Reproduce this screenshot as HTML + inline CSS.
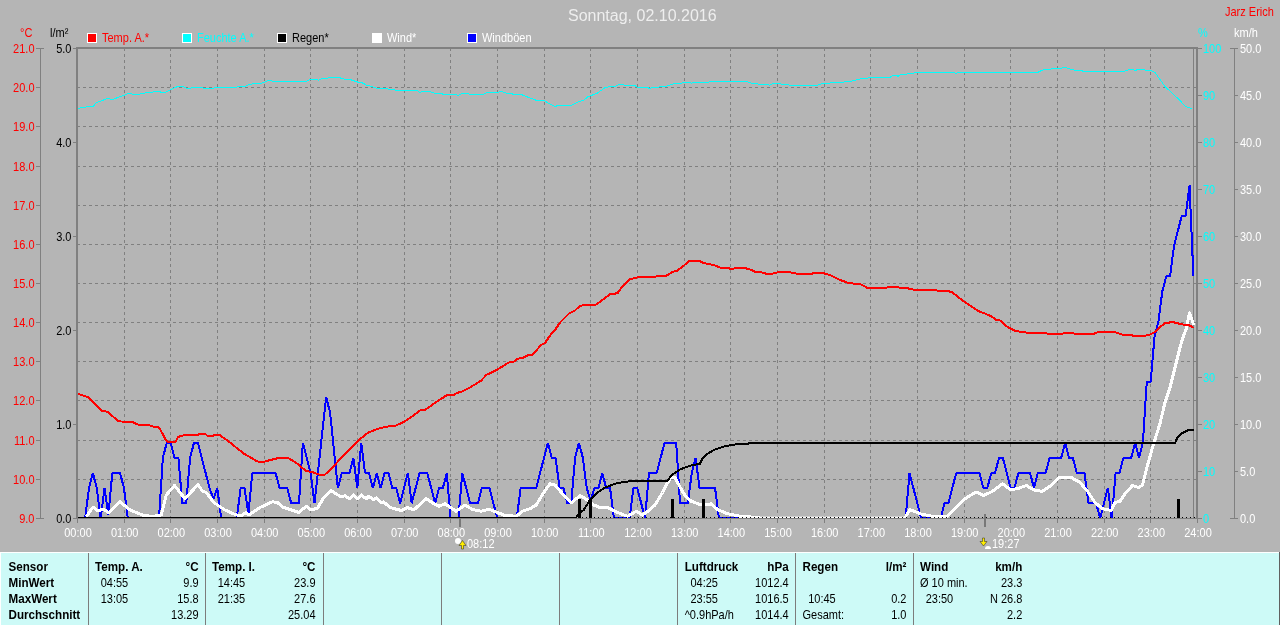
<!DOCTYPE html>
<html lang="de"><head><meta charset="utf-8"><title>Sonntag, 02.10.2016</title>
<style>html,body{margin:0;padding:0;background:#b5b5b5;overflow:hidden}svg{display:block}</style>
</head><body>
<svg width="1280" height="625" viewBox="0 0 1280 625" font-family='"Liberation Sans", sans-serif' font-size="11">
<rect x="0" y="0" width="1280" height="625" fill="#b5b5b5"/>
<g stroke="#808080" stroke-width="1" stroke-dasharray="3 3" shape-rendering="crispEdges" fill="none">
<line x1="77.0" y1="87.5" x2="1196" y2="87.5"/>
<line x1="77.0" y1="126.5" x2="1196" y2="126.5"/>
<line x1="77.0" y1="166.5" x2="1196" y2="166.5"/>
<line x1="77.0" y1="205.5" x2="1196" y2="205.5"/>
<line x1="77.0" y1="244.5" x2="1196" y2="244.5"/>
<line x1="77.0" y1="283.5" x2="1196" y2="283.5"/>
<line x1="77.0" y1="322.5" x2="1196" y2="322.5"/>
<line x1="77.0" y1="361.5" x2="1196" y2="361.5"/>
<line x1="77.0" y1="400.5" x2="1196" y2="400.5"/>
<line x1="77.0" y1="440.5" x2="1196" y2="440.5"/>
<line x1="77.0" y1="479.5" x2="1196" y2="479.5"/>
<line x1="124.5" y1="48.0" x2="124.5" y2="517"/>
<line x1="170.5" y1="48.0" x2="170.5" y2="517"/>
<line x1="217.5" y1="48.0" x2="217.5" y2="517"/>
<line x1="264.5" y1="48.0" x2="264.5" y2="517"/>
<line x1="310.5" y1="48.0" x2="310.5" y2="517"/>
<line x1="357.5" y1="48.0" x2="357.5" y2="517"/>
<line x1="404.5" y1="48.0" x2="404.5" y2="517"/>
<line x1="450.5" y1="48.0" x2="450.5" y2="517"/>
<line x1="497.5" y1="48.0" x2="497.5" y2="517"/>
<line x1="544.5" y1="48.0" x2="544.5" y2="517"/>
<line x1="590.5" y1="48.0" x2="590.5" y2="517"/>
<line x1="637.5" y1="48.0" x2="637.5" y2="517"/>
<line x1="684.5" y1="48.0" x2="684.5" y2="517"/>
<line x1="730.5" y1="48.0" x2="730.5" y2="517"/>
<line x1="777.5" y1="48.0" x2="777.5" y2="517"/>
<line x1="824.5" y1="48.0" x2="824.5" y2="517"/>
<line x1="870.5" y1="48.0" x2="870.5" y2="517"/>
<line x1="917.5" y1="48.0" x2="917.5" y2="517"/>
<line x1="964.5" y1="48.0" x2="964.5" y2="517"/>
<line x1="1010.5" y1="48.0" x2="1010.5" y2="517"/>
<line x1="1057.5" y1="48.0" x2="1057.5" y2="517"/>
<line x1="1104.5" y1="48.0" x2="1104.5" y2="517"/>
<line x1="1150.5" y1="48.0" x2="1150.5" y2="517"/>
</g>
<g fill="#808080" shape-rendering="crispEdges">
<rect x="76" y="47" width="2" height="471"/>
<rect x="76" y="47" width="1122" height="2"/>
<rect x="1196" y="47" width="2" height="471"/>
<rect x="1193" y="49" width="1" height="469"/>
<rect x="76" y="518" width="1122" height="1"/>
<rect x="40" y="48" width="1" height="471"/>
<rect x="36" y="48" width="8" height="1"/>
<rect x="36" y="87" width="4" height="1"/>
<rect x="36" y="126" width="4" height="1"/>
<rect x="36" y="166" width="4" height="1"/>
<rect x="36" y="205" width="4" height="1"/>
<rect x="36" y="244" width="4" height="1"/>
<rect x="36" y="283" width="4" height="1"/>
<rect x="36" y="322" width="4" height="1"/>
<rect x="36" y="361" width="4" height="1"/>
<rect x="36" y="400" width="4" height="1"/>
<rect x="36" y="440" width="4" height="1"/>
<rect x="36" y="479" width="4" height="1"/>
<rect x="36" y="518" width="8" height="1"/>
<rect x="73" y="48" width="3" height="1"/>
<rect x="73" y="142" width="3" height="1"/>
<rect x="73" y="236" width="3" height="1"/>
<rect x="73" y="330" width="3" height="1"/>
<rect x="73" y="424" width="3" height="1"/>
<rect x="73" y="518" width="3" height="1"/>
<rect x="1198" y="48" width="4" height="1"/>
<rect x="1198" y="95" width="4" height="1"/>
<rect x="1198" y="142" width="4" height="1"/>
<rect x="1198" y="189" width="4" height="1"/>
<rect x="1198" y="236" width="4" height="1"/>
<rect x="1198" y="283" width="4" height="1"/>
<rect x="1198" y="330" width="4" height="1"/>
<rect x="1198" y="377" width="4" height="1"/>
<rect x="1198" y="424" width="4" height="1"/>
<rect x="1198" y="471" width="4" height="1"/>
<rect x="1198" y="518" width="4" height="1"/>
<rect x="1234" y="48" width="1" height="471"/>
<rect x="1230" y="48" width="8" height="1"/>
<rect x="1234" y="95" width="4" height="1"/>
<rect x="1234" y="142" width="4" height="1"/>
<rect x="1234" y="189" width="4" height="1"/>
<rect x="1234" y="236" width="4" height="1"/>
<rect x="1234" y="283" width="4" height="1"/>
<rect x="1234" y="330" width="4" height="1"/>
<rect x="1234" y="377" width="4" height="1"/>
<rect x="1234" y="424" width="4" height="1"/>
<rect x="1234" y="471" width="4" height="1"/>
<rect x="1230" y="518" width="8" height="1"/>
<rect x="77" y="519" width="1" height="4"/>
<rect x="124" y="519" width="1" height="4"/>
<rect x="170" y="519" width="1" height="4"/>
<rect x="217" y="519" width="1" height="4"/>
<rect x="264" y="519" width="1" height="4"/>
<rect x="310" y="519" width="1" height="4"/>
<rect x="357" y="519" width="1" height="4"/>
<rect x="404" y="519" width="1" height="4"/>
<rect x="450" y="519" width="1" height="4"/>
<rect x="497" y="519" width="1" height="4"/>
<rect x="544" y="519" width="1" height="4"/>
<rect x="590" y="519" width="1" height="4"/>
<rect x="637" y="519" width="1" height="4"/>
<rect x="684" y="519" width="1" height="4"/>
<rect x="730" y="519" width="1" height="4"/>
<rect x="777" y="519" width="1" height="4"/>
<rect x="824" y="519" width="1" height="4"/>
<rect x="870" y="519" width="1" height="4"/>
<rect x="917" y="519" width="1" height="4"/>
<rect x="964" y="519" width="1" height="4"/>
<rect x="1010" y="519" width="1" height="4"/>
<rect x="1057" y="519" width="1" height="4"/>
<rect x="1104" y="519" width="1" height="4"/>
<rect x="1150" y="519" width="1" height="4"/>
<rect x="1197" y="519" width="1" height="4"/>
</g>
<g fill="#787878" shape-rendering="crispEdges"><rect x="459" y="518" width="2" height="9"/><rect x="984" y="514" width="2" height="13"/></g>
<clipPath id="pc"><rect x="78" y="49" width="1118" height="469"/></clipPath>
<g clip-path="url(#pc)">
<polyline points="77.50,109.25 81.00,107.75 93.75,106.00 96.00,102.75 107.50,98.50 112.50,99.50 128.75,93.50 136.00,94.75 147.50,92.50 158.75,91.50 163.75,93.00 177.50,86.50 182.50,86.50 187.50,88.50 195.00,87.50 202.50,88.00 210.00,89.00 217.50,87.25 222.50,88.00 235.00,87.25 245.00,86.25 250.00,84.25 262.50,83.00 268.75,80.25 272.50,81.25 306.25,81.25 311.25,79.25 316.00,79.25 318.75,80.25 322.50,78.50 327.50,78.25 330.00,77.50 338.75,77.50 343.75,79.00 350.00,79.50 357.50,82.00 362.50,83.00 366.25,85.00 376.25,88.00 385.00,88.50 395.00,90.00 416.25,90.00 420.00,92.50 422.50,91.25 430.00,91.75 435.00,93.25 441.25,93.50 443.75,94.50 456.25,94.50 458.00,95.50 462.50,93.25 467.50,93.25 470.00,94.50 482.50,94.50 487.50,92.50 497.50,92.50 501.25,91.25 506.25,93.25 511.25,93.50 513.75,94.50 521.25,94.50 530.00,98.00 536.25,100.25 543.75,100.50 551.25,104.75 555.00,106.50 558.75,105.25 571.25,105.25 577.50,102.25 583.75,100.25 587.50,97.00 597.50,93.00 605.00,87.75 610.00,86.50 615.00,86.50 618.75,84.50 622.50,84.50 626.25,85.50 635.00,85.50 637.50,87.50 647.50,87.50 649.50,88.50 652.50,87.50 657.50,87.50 660.00,86.50 665.00,86.50 675.00,83.50 681.25,83.50 683.75,82.25 688.75,82.25 691.25,83.25 693.75,82.25 708.75,82.25 711.25,81.25 746.25,81.25 751.25,83.25 756.25,83.25 758.75,84.25 766.25,84.25 769.50,85.25 773.75,83.25 778.75,83.25 781.25,84.25 787.50,84.50 790.00,85.50 816.25,85.50 823.75,83.25 828.75,83.25 832.50,82.25 843.75,82.25 846.25,81.25 851.25,81.25 857.50,79.50 862.50,78.50 867.50,78.25 870.00,77.25 890.00,77.25 893.75,75.25 896.25,75.25 898.00,76.25 901.25,74.25 906.25,74.25 908.75,73.25 913.75,73.25 916.25,72.25 953.75,72.25 956.25,73.50 958.75,72.25 1037.50,72.50 1043.75,69.50 1050.00,69.25 1052.50,68.25 1061.25,68.25 1065.00,67.25 1070.00,69.00 1076.25,70.50 1081.25,70.50 1083.75,71.50 1123.75,71.50 1130.00,69.50 1132.50,69.50 1135.00,70.50 1138.00,69.50 1143.75,69.50 1146.25,70.50 1151.25,70.50 1155.00,72.50 1165.00,86.50 1172.50,93.50 1180.00,100.50 1185.00,106.00 1192.50,109.25" fill="none" stroke="#00ffff" stroke-width="1" stroke-linecap="butt" shape-rendering="crispEdges" stroke-linejoin="round"/>
<polyline points="77.30,518.40 81.19,518.40 85.08,518.40 88.97,488.14 92.86,473.01 96.74,488.14 100.63,518.40 104.52,488.14 108.41,515.37 112.30,473.01 116.19,473.01 120.08,473.01 123.97,488.14 127.86,518.40 131.74,518.40 135.63,518.40 139.52,518.40 143.41,518.40 147.30,518.40 151.19,518.40 155.08,518.40 158.97,518.40 162.86,457.88 166.74,442.75 170.63,442.75 174.52,457.88 178.41,457.88 182.30,503.27 186.19,503.27 190.08,457.88 193.97,442.75 197.86,442.75 201.74,457.88 205.63,473.01 209.52,488.14 213.41,498.73 217.30,488.14 221.19,518.40 225.08,518.40 228.97,518.40 232.86,518.40 236.74,518.40 240.63,488.14 244.52,488.14 248.41,513.86 252.30,473.01 256.19,473.01 260.08,473.01 263.97,473.01 267.86,473.01 271.74,473.01 275.63,473.01 279.52,488.14 283.41,488.14 287.30,488.14 291.19,503.27 295.08,503.27 298.97,503.27 302.86,442.75 306.74,457.88 310.63,473.01 314.52,503.27 318.41,468.47 322.30,432.16 326.19,397.36 330.08,412.49 333.97,450.31 337.86,488.14 341.74,473.01 345.63,473.01 349.52,473.01 353.41,457.88 357.30,488.14 361.19,442.75 365.08,473.01 368.97,473.01 372.86,488.14 376.74,473.01 380.63,488.14 384.52,473.01 388.41,473.01 392.30,488.14 396.19,488.14 400.08,503.27 403.97,488.14 407.86,473.01 411.74,503.27 415.63,488.14 419.52,473.01 423.41,473.01 427.30,473.01 431.19,488.14 435.08,503.27 438.97,488.14 442.86,488.14 446.74,473.01 450.63,518.40 454.52,518.40 458.41,518.40 462.30,473.01 466.19,488.14 470.08,503.27 473.97,503.27 477.86,503.27 481.74,488.14 485.63,488.14 489.52,488.14 493.41,503.27 497.30,518.40 501.19,518.40 505.08,518.40 508.97,518.40 512.86,518.40 516.74,518.40 520.63,488.14 524.52,488.14 528.41,488.14 532.30,488.14 536.19,488.14 540.08,473.01 543.97,457.88 547.86,442.75 551.74,457.88 555.63,457.88 559.52,488.14 563.41,488.14 567.30,503.27 571.19,503.27 575.08,457.88 578.97,442.75 582.86,457.88 586.74,488.14 590.63,500.24 594.52,488.14 598.41,488.14 602.30,473.01 606.19,488.14 610.08,488.14 613.97,518.40 617.86,518.40 621.74,518.40 625.63,518.40 629.52,518.40 633.41,488.14 637.30,488.14 641.19,503.27 645.08,518.40 648.97,473.01 652.86,473.01 656.74,473.01 660.63,457.88 664.52,442.75 668.41,442.75 672.30,442.75 676.19,442.75 680.08,503.27 683.97,503.27 687.86,503.27 691.74,473.01 695.63,457.88 699.52,488.14 703.41,488.14 707.30,488.14 711.19,488.14 715.08,488.14 718.97,518.40 722.86,518.40 726.74,518.40 730.63,518.40 734.52,518.40 738.41,518.40 742.30,518.40 746.19,518.40 750.08,518.40 753.97,518.40 757.86,518.40 761.74,518.40 765.63,518.40 769.52,518.40 773.41,518.40 777.30,518.40 781.19,518.40 785.08,518.40 788.97,518.40 792.86,518.40 796.74,518.40 800.63,518.40 804.52,518.40 808.41,518.40 812.30,518.40 816.19,518.40 820.08,518.40 823.97,518.40 827.86,518.40 831.74,518.40 835.63,518.40 839.52,518.40 843.41,518.40 847.30,518.40 851.19,518.40 855.08,518.40 858.97,518.40 862.86,518.40 866.74,518.40 870.63,518.40 874.52,518.40 878.41,518.40 882.30,518.40 886.19,518.40 890.08,518.40 893.97,518.40 897.86,518.40 901.74,518.40 905.63,518.40 909.52,473.01 913.41,488.14 917.30,503.27 921.19,518.40 925.08,518.40 928.97,518.40 932.86,518.40 936.74,518.40 940.63,518.40 944.52,503.27 948.41,503.27 952.30,488.14 956.19,473.01 960.08,473.01 963.97,473.01 967.86,473.01 971.74,473.01 975.63,473.01 979.52,473.01 983.41,488.14 987.30,488.14 991.19,473.01 995.08,473.01 998.97,457.88 1002.86,457.88 1006.74,473.01 1010.63,488.14 1014.52,488.14 1018.41,473.01 1022.30,473.01 1026.19,473.01 1030.08,473.01 1033.97,488.14 1037.86,473.01 1041.74,473.01 1045.63,473.01 1049.52,457.88 1053.41,457.88 1057.30,457.88 1061.19,457.88 1065.08,442.75 1068.97,457.88 1072.86,457.88 1076.74,473.01 1080.63,473.01 1084.52,473.01 1088.41,503.27 1092.30,503.27 1096.19,503.27 1100.08,518.40 1103.97,503.27 1107.86,488.14 1111.74,518.40 1115.63,473.01 1119.52,473.01 1123.41,457.88 1127.30,457.88 1131.19,457.88 1135.08,442.75 1138.97,457.88 1142.86,442.75 1146.74,382.23 1150.63,382.23 1154.52,336.84 1158.41,321.71 1162.30,291.45 1166.19,276.32 1170.08,276.32 1173.97,246.06 1177.86,230.93 1181.74,215.80 1185.63,215.80 1189.52,185.54 1193.41,276.32" fill="none" stroke="#0000ff" stroke-width="2" stroke-linecap="butt" shape-rendering="crispEdges" stroke-linejoin="bevel"/>
<polyline points="86.25,517.00 93.00,507.00 97.50,510.50 103.75,509.50 108.75,512.50 120.00,501.75 130.00,510.00 142.50,515.00 152.50,516.50 161.25,515.00 166.25,495.00 174.50,485.50 185.00,498.75 198.00,484.50 202.50,491.25 206.25,492.50 213.75,502.50 225.00,510.00 235.00,514.50 241.25,516.25 245.75,512.50 248.75,515.00 260.00,507.50 272.50,501.75 277.50,502.50 282.50,507.00 298.75,512.50 306.25,506.25 311.25,510.00 317.50,508.00 323.75,497.50 331.25,490.75 341.25,497.00 345.00,495.75 349.50,498.75 353.75,495.00 357.50,498.75 361.25,495.00 366.25,498.75 368.75,496.25 373.75,500.00 376.25,498.00 381.25,503.00 383.75,502.00 390.00,507.50 401.25,510.50 407.50,507.50 413.75,510.00 426.25,498.75 433.75,503.75 438.75,506.25 445.00,503.75 456.25,511.25 465.00,505.00 472.50,509.50 481.25,511.25 488.75,509.25 497.50,512.50 505.00,515.50 516.25,516.25 522.50,511.25 530.00,508.75 536.25,505.00 543.75,492.50 550.00,483.75 555.00,485.00 562.50,493.75 571.25,503.00 580.00,495.50 587.50,500.00 593.75,505.00 601.25,508.00 607.50,507.50 617.50,512.50 627.50,516.25 636.25,511.25 642.50,515.00 648.75,510.50 655.00,505.00 662.50,492.50 666.25,485.00 671.25,477.00 675.00,477.50 680.00,487.00 685.00,495.50 691.25,501.25 700.00,504.50 707.50,505.00 711.25,503.75 717.50,509.50 727.50,513.75 740.00,516.25 760.00,517.60" fill="none" stroke="#ffffff" stroke-width="3" stroke-linecap="butt" shape-rendering="crispEdges" stroke-linejoin="round"/>
<polyline points="905.00,517.60 910.00,509.50 920.00,513.75 932.50,516.25 947.50,516.25 955.00,508.75 963.75,500.00 967.50,497.00 976.25,492.00 983.75,495.50 992.50,491.25 1002.50,483.75 1010.00,489.50 1017.50,488.75 1026.25,485.50 1035.00,490.50 1042.50,491.25 1050.00,486.25 1060.00,477.00 1071.25,477.50 1080.00,482.50 1087.50,491.25 1095.00,502.50 1102.50,508.75 1111.25,510.50 1115.00,502.50 1120.00,501.25 1125.00,493.75 1132.50,485.50 1138.75,487.50 1142.50,485.00 1146.25,470.00 1152.50,447.50 1160.00,423.50 1165.00,402.50 1170.00,387.50 1175.00,367.50 1180.00,347.50 1182.50,338.75 1186.25,328.75 1189.50,313.00 1193.75,325.00" fill="none" stroke="#ffffff" stroke-width="3" stroke-linecap="butt" shape-rendering="crispEdges" stroke-linejoin="round"/>
<rect x="760" y="516.6" width="145" height="3" fill="#ffffff"/>
<polyline points="77.50,393.75 88.75,397.50 101.25,410.50 107.50,411.75 117.50,420.50 121.25,421.50 132.50,422.00 137.50,424.50 148.75,425.00 153.75,426.75 158.75,427.50 160.40,430.00 163.00,434.50 166.00,440.40 168.00,441.80 175.50,441.80 178.00,437.00 184.40,435.00 198.00,435.00 199.00,433.80 205.20,433.80 207.60,436.00 213.20,436.00 214.00,435.00 219.60,435.00 222.00,437.00 227.50,440.50 237.20,448.40 244.40,454.00 250.00,457.20 257.50,461.50 263.75,461.75 277.50,458.25 288.75,458.25 297.50,463.75 306.25,471.25 311.25,471.75 318.75,474.50 325.00,474.50 332.50,467.50 345.00,453.75 357.50,441.25 367.50,433.00 377.50,428.75 388.00,426.50 396.25,425.50 405.00,421.25 412.50,416.25 420.00,410.50 425.00,410.00 433.75,403.75 446.25,395.50 453.75,395.00 456.25,393.25 462.50,391.25 470.00,387.50 481.25,380.50 486.25,375.00 497.50,369.50 508.75,362.50 513.75,361.75 517.50,358.75 523.75,357.50 528.75,355.00 532.50,354.50 541.25,345.00 545.00,343.00 551.25,333.75 555.00,330.00 560.00,322.50 568.75,313.75 575.00,310.50 580.00,305.75 585.00,305.00 596.25,304.50 602.50,300.00 610.00,294.25 617.50,293.25 622.50,286.25 630.00,279.25 638.75,277.00 652.50,276.75 666.25,275.75 672.50,272.00 677.50,270.50 683.75,265.75 688.75,261.25 700.00,261.25 703.75,263.00 713.75,265.00 720.00,267.50 727.50,268.00 731.25,269.00 736.25,268.00 745.00,268.00 751.25,270.00 755.00,271.75 760.00,272.00 766.25,273.75 772.50,273.75 778.75,272.00 788.75,272.00 797.50,273.75 811.25,273.75 815.00,273.00 822.50,273.00 830.00,275.00 840.00,280.00 848.75,283.00 861.25,284.50 867.50,288.00 885.00,288.00 888.75,287.00 897.50,287.00 900.00,288.00 906.25,288.00 915.00,290.00 935.00,290.00 937.50,290.75 947.50,290.75 952.50,292.50 962.50,300.50 970.00,305.50 980.00,312.00 985.00,313.50 991.25,316.25 996.25,320.00 1000.00,320.50 1007.50,327.00 1015.00,330.75 1017.50,331.25 1027.50,332.75 1045.00,333.00 1047.50,333.75 1062.50,333.75 1065.00,333.00 1072.50,333.00 1075.00,333.75 1093.75,333.75 1098.75,331.75 1113.75,331.75 1123.75,335.00 1132.50,335.50 1136.25,336.25 1142.50,336.25 1150.00,334.50 1155.00,332.00 1160.00,327.00 1165.00,323.25 1172.50,322.00 1182.50,324.50 1188.75,325.00 1193.75,328.00" fill="none" stroke="#ff0000" stroke-width="2" stroke-linecap="butt" shape-rendering="crispEdges" stroke-linejoin="round"/>
<polyline points="77.00,517.50 576.25,517.50 580.00,512.50 583.75,510.00 590.00,500.00 597.50,492.50 605.00,487.50 617.50,483.00 630.00,481.25 642.50,480.75 667.50,480.75 671.25,475.50 680.00,469.50 690.00,465.75 700.00,463.75 702.50,458.75 707.50,453.75 715.00,449.50 725.00,446.25 735.00,444.50 750.00,443.40 765.00,443.00 1175.00,443.00 1177.50,437.50 1181.25,433.75 1187.50,430.50 1193.75,430.00" fill="none" stroke="#000000" stroke-width="2" stroke-linecap="butt" shape-rendering="crispEdges" stroke-linejoin="round"/>
<rect x="578.0" y="499" width="3" height="19" fill="#000" shape-rendering="crispEdges"/>
<rect x="588.8" y="499" width="3" height="19" fill="#000" shape-rendering="crispEdges"/>
<rect x="670.5" y="499" width="3" height="19" fill="#000" shape-rendering="crispEdges"/>
<rect x="701.8" y="499" width="3" height="19" fill="#000" shape-rendering="crispEdges"/>
<rect x="1177.0" y="499" width="3" height="19" fill="#000" shape-rendering="crispEdges"/>
</g>
<line x1="78" y1="517.5" x2="1196" y2="517.5" stroke="#000" stroke-width="1" stroke-dasharray="1 3" shape-rendering="crispEdges"/>
<rect x="87.5" y="33.5" width="9" height="9" fill="#ff0000" stroke="#fff" stroke-width="1" shape-rendering="crispEdges"/>
<text transform="translate(102 42) scale(0.917 1)" font-size="12" fill="#ff0000">Temp. A.*</text>
<rect x="182.5" y="33.5" width="9" height="9" fill="#00ffff" stroke="#fff" stroke-width="1" shape-rendering="crispEdges"/>
<text transform="translate(197 42) scale(0.917 1)" font-size="12" fill="#00ffff">Feuchte A.*</text>
<rect x="277.5" y="33.5" width="9" height="9" fill="#000000" stroke="#fff" stroke-width="1" shape-rendering="crispEdges"/>
<text transform="translate(292 42) scale(0.917 1)" font-size="12" fill="#000000">Regen*</text>
<rect x="372.5" y="33.5" width="9" height="9" fill="#ffffff" stroke="#fff" stroke-width="1" shape-rendering="crispEdges"/>
<text transform="translate(387 42) scale(0.917 1)" font-size="12" fill="#ffffff">Wind*</text>
<rect x="467.5" y="33.5" width="9" height="9" fill="#0000ff" stroke="#fff" stroke-width="1" shape-rendering="crispEdges"/>
<text transform="translate(482 42) scale(0.917 1)" font-size="12" fill="#ffffff">Windböen</text>
<text transform="translate(568 21) scale(1 1)" font-size="16" fill="#eeeeee">Sonntag, 02.10.2016</text>
<text transform="translate(1225 16) scale(0.917 1)" font-size="12" fill="#ff0000">Jarz Erich</text>
<text transform="translate(1198 37) scale(0.917 1)" font-size="12" fill="#00ffff">%</text>
<text transform="translate(1234 37) scale(0.917 1)" font-size="12" fill="#ffffff">km/h</text>
<text transform="translate(20 37) scale(0.917 1)" font-size="12" fill="#ff0000">°C</text>
<text transform="translate(50 37) scale(0.917 1)" font-size="12" fill="#000000">l/m²</text>
<text transform="translate(34.5 53) scale(0.917 1)" font-size="12" fill="#ff0000" text-anchor="end">21.0</text>
<text transform="translate(34.5 92) scale(0.917 1)" font-size="12" fill="#ff0000" text-anchor="end">20.0</text>
<text transform="translate(34.5 131) scale(0.917 1)" font-size="12" fill="#ff0000" text-anchor="end">19.0</text>
<text transform="translate(34.5 171) scale(0.917 1)" font-size="12" fill="#ff0000" text-anchor="end">18.0</text>
<text transform="translate(34.5 210) scale(0.917 1)" font-size="12" fill="#ff0000" text-anchor="end">17.0</text>
<text transform="translate(34.5 249) scale(0.917 1)" font-size="12" fill="#ff0000" text-anchor="end">16.0</text>
<text transform="translate(34.5 288) scale(0.917 1)" font-size="12" fill="#ff0000" text-anchor="end">15.0</text>
<text transform="translate(34.5 327) scale(0.917 1)" font-size="12" fill="#ff0000" text-anchor="end">14.0</text>
<text transform="translate(34.5 366) scale(0.917 1)" font-size="12" fill="#ff0000" text-anchor="end">13.0</text>
<text transform="translate(34.5 405) scale(0.917 1)" font-size="12" fill="#ff0000" text-anchor="end">12.0</text>
<text transform="translate(34.5 445) scale(0.917 1)" font-size="12" fill="#ff0000" text-anchor="end">11.0</text>
<text transform="translate(34.5 484) scale(0.917 1)" font-size="12" fill="#ff0000" text-anchor="end">10.0</text>
<text transform="translate(34.5 523) scale(0.917 1)" font-size="12" fill="#ff0000" text-anchor="end">9.0</text>
<text transform="translate(71.5 53) scale(0.917 1)" font-size="12" fill="#000" text-anchor="end">5.0</text>
<text transform="translate(71.5 147) scale(0.917 1)" font-size="12" fill="#000" text-anchor="end">4.0</text>
<text transform="translate(71.5 241) scale(0.917 1)" font-size="12" fill="#000" text-anchor="end">3.0</text>
<text transform="translate(71.5 335) scale(0.917 1)" font-size="12" fill="#000" text-anchor="end">2.0</text>
<text transform="translate(71.5 429) scale(0.917 1)" font-size="12" fill="#000" text-anchor="end">1.0</text>
<text transform="translate(71.5 523) scale(0.917 1)" font-size="12" fill="#000" text-anchor="end">0.0</text>
<text transform="translate(1203 53) scale(0.917 1)" font-size="12" fill="#00ffff">100</text>
<text transform="translate(1240 53) scale(0.917 1)" font-size="12" fill="#ffffff">50.0</text>
<text transform="translate(1203 100) scale(0.917 1)" font-size="12" fill="#00ffff">90</text>
<text transform="translate(1240 100) scale(0.917 1)" font-size="12" fill="#ffffff">45.0</text>
<text transform="translate(1203 147) scale(0.917 1)" font-size="12" fill="#00ffff">80</text>
<text transform="translate(1240 147) scale(0.917 1)" font-size="12" fill="#ffffff">40.0</text>
<text transform="translate(1203 194) scale(0.917 1)" font-size="12" fill="#00ffff">70</text>
<text transform="translate(1240 194) scale(0.917 1)" font-size="12" fill="#ffffff">35.0</text>
<text transform="translate(1203 241) scale(0.917 1)" font-size="12" fill="#00ffff">60</text>
<text transform="translate(1240 241) scale(0.917 1)" font-size="12" fill="#ffffff">30.0</text>
<text transform="translate(1203 288) scale(0.917 1)" font-size="12" fill="#00ffff">50</text>
<text transform="translate(1240 288) scale(0.917 1)" font-size="12" fill="#ffffff">25.0</text>
<text transform="translate(1203 335) scale(0.917 1)" font-size="12" fill="#00ffff">40</text>
<text transform="translate(1240 335) scale(0.917 1)" font-size="12" fill="#ffffff">20.0</text>
<text transform="translate(1203 382) scale(0.917 1)" font-size="12" fill="#00ffff">30</text>
<text transform="translate(1240 382) scale(0.917 1)" font-size="12" fill="#ffffff">15.0</text>
<text transform="translate(1203 429) scale(0.917 1)" font-size="12" fill="#00ffff">20</text>
<text transform="translate(1240 429) scale(0.917 1)" font-size="12" fill="#ffffff">10.0</text>
<text transform="translate(1203 476) scale(0.917 1)" font-size="12" fill="#00ffff">10</text>
<text transform="translate(1240 476) scale(0.917 1)" font-size="12" fill="#ffffff">5.0</text>
<text transform="translate(1203 523) scale(0.917 1)" font-size="12" fill="#00ffff">0</text>
<text transform="translate(1240 523) scale(0.917 1)" font-size="12" fill="#ffffff">0.0</text>
<text transform="translate(78.0 537) scale(0.917 1)" font-size="12" fill="#ffffff" text-anchor="middle">00:00</text>
<text transform="translate(124.7 537) scale(0.917 1)" font-size="12" fill="#ffffff" text-anchor="middle">01:00</text>
<text transform="translate(171.3 537) scale(0.917 1)" font-size="12" fill="#ffffff" text-anchor="middle">02:00</text>
<text transform="translate(218.0 537) scale(0.917 1)" font-size="12" fill="#ffffff" text-anchor="middle">03:00</text>
<text transform="translate(264.7 537) scale(0.917 1)" font-size="12" fill="#ffffff" text-anchor="middle">04:00</text>
<text transform="translate(311.3 537) scale(0.917 1)" font-size="12" fill="#ffffff" text-anchor="middle">05:00</text>
<text transform="translate(358.0 537) scale(0.917 1)" font-size="12" fill="#ffffff" text-anchor="middle">06:00</text>
<text transform="translate(404.7 537) scale(0.917 1)" font-size="12" fill="#ffffff" text-anchor="middle">07:00</text>
<text transform="translate(451.3 537) scale(0.917 1)" font-size="12" fill="#ffffff" text-anchor="middle">08:00</text>
<text transform="translate(498.0 537) scale(0.917 1)" font-size="12" fill="#ffffff" text-anchor="middle">09:00</text>
<text transform="translate(544.7 537) scale(0.917 1)" font-size="12" fill="#ffffff" text-anchor="middle">10:00</text>
<text transform="translate(591.3 537) scale(0.917 1)" font-size="12" fill="#ffffff" text-anchor="middle">11:00</text>
<text transform="translate(638.0 537) scale(0.917 1)" font-size="12" fill="#ffffff" text-anchor="middle">12:00</text>
<text transform="translate(684.7 537) scale(0.917 1)" font-size="12" fill="#ffffff" text-anchor="middle">13:00</text>
<text transform="translate(731.3 537) scale(0.917 1)" font-size="12" fill="#ffffff" text-anchor="middle">14:00</text>
<text transform="translate(778.0 537) scale(0.917 1)" font-size="12" fill="#ffffff" text-anchor="middle">15:00</text>
<text transform="translate(824.7 537) scale(0.917 1)" font-size="12" fill="#ffffff" text-anchor="middle">16:00</text>
<text transform="translate(871.3 537) scale(0.917 1)" font-size="12" fill="#ffffff" text-anchor="middle">17:00</text>
<text transform="translate(918.0 537) scale(0.917 1)" font-size="12" fill="#ffffff" text-anchor="middle">18:00</text>
<text transform="translate(964.7 537) scale(0.917 1)" font-size="12" fill="#ffffff" text-anchor="middle">19:00</text>
<text transform="translate(1011.3 537) scale(0.917 1)" font-size="12" fill="#ffffff" text-anchor="middle">20:00</text>
<text transform="translate(1058.0 537) scale(0.917 1)" font-size="12" fill="#ffffff" text-anchor="middle">21:00</text>
<text transform="translate(1104.7 537) scale(0.917 1)" font-size="12" fill="#ffffff" text-anchor="middle">22:00</text>
<text transform="translate(1151.3 537) scale(0.917 1)" font-size="12" fill="#ffffff" text-anchor="middle">23:00</text>
<text transform="translate(1198.0 537) scale(0.917 1)" font-size="12" fill="#ffffff" text-anchor="middle">24:00</text>
<circle cx="458" cy="541" r="3" fill="#ffffff"/>
<path d="M462.5 540.5 L466 545.5 L463.5 545.5 L463.5 549 L461.5 549 L461.5 545.5 L459 545.5 Z" fill="#ffee00" stroke="#222" stroke-width="0.5"/>
<text transform="translate(467 548) scale(0.917 1)" font-size="12" fill="#ffffff">08:12</text>
<path d="M983.5 546 L987 541.5 L984.5 541.5 L984.5 538 L982.5 538 L982.5 541.5 L980 541.5 Z" fill="#ffee00" stroke="#222" stroke-width="0.5"/>
<path d="M985 549 A3 3 0 0 1 991 549 Z" fill="#ffffff"/>
<text transform="translate(992 548) scale(0.917 1)" font-size="12" fill="#ffffff">19:27</text>
<rect x="1" y="553" width="1278" height="72" fill="#cdfaf7"/>
<rect x="0" y="552" width="1279" height="1" fill="#ffffff" shape-rendering="crispEdges"/>
<rect x="0" y="552" width="1" height="73" fill="#ffffff" shape-rendering="crispEdges"/>
<rect x="1279" y="552" width="1" height="73" fill="#606060" shape-rendering="crispEdges"/>
<rect x="88" y="553" width="1" height="72" fill="#7c7c7c" shape-rendering="crispEdges"/>
<rect x="205" y="553" width="1" height="72" fill="#7c7c7c" shape-rendering="crispEdges"/>
<rect x="323" y="553" width="1" height="72" fill="#7c7c7c" shape-rendering="crispEdges"/>
<rect x="441" y="553" width="1" height="72" fill="#7c7c7c" shape-rendering="crispEdges"/>
<rect x="559" y="553" width="1" height="72" fill="#7c7c7c" shape-rendering="crispEdges"/>
<rect x="677" y="553" width="1" height="72" fill="#7c7c7c" shape-rendering="crispEdges"/>
<rect x="795" y="553" width="1" height="72" fill="#7c7c7c" shape-rendering="crispEdges"/>
<rect x="913" y="553" width="1" height="72" fill="#7c7c7c" shape-rendering="crispEdges"/>
<text transform="translate(8.5 571) scale(0.97 1)" font-size="12" fill="#000" font-weight="bold">Sensor</text>
<text transform="translate(8.5 586.5) scale(0.97 1)" font-size="12" fill="#000" font-weight="bold">MinWert</text>
<text transform="translate(8.5 602.5) scale(0.97 1)" font-size="12" fill="#000" font-weight="bold">MaxWert</text>
<text transform="translate(8.5 618.5) scale(0.97 1)" font-size="12" fill="#000" font-weight="bold">Durchschnitt</text>
<text transform="translate(95 571) scale(0.97 1)" font-size="12" fill="#000" font-weight="bold">Temp. A.</text>
<text transform="translate(198.6 571) scale(0.97 1)" font-size="12" fill="#000" text-anchor="end" font-weight="bold">°C</text>
<text transform="translate(100.7 586.5) scale(0.917 1)" font-size="12" fill="#000">04:55</text>
<text transform="translate(198.6 586.5) scale(0.917 1)" font-size="12" fill="#000" text-anchor="end">9.9</text>
<text transform="translate(100.7 602.5) scale(0.917 1)" font-size="12" fill="#000">13:05</text>
<text transform="translate(198.6 602.5) scale(0.917 1)" font-size="12" fill="#000" text-anchor="end">15.8</text>
<text transform="translate(198.6 618.5) scale(0.917 1)" font-size="12" fill="#000" text-anchor="end">13.29</text>
<text transform="translate(212 571) scale(0.97 1)" font-size="12" fill="#000" font-weight="bold">Temp. I.</text>
<text transform="translate(315.5 571) scale(0.97 1)" font-size="12" fill="#000" text-anchor="end" font-weight="bold">°C</text>
<text transform="translate(217.7 586.5) scale(0.917 1)" font-size="12" fill="#000">14:45</text>
<text transform="translate(315.5 586.5) scale(0.917 1)" font-size="12" fill="#000" text-anchor="end">23.9</text>
<text transform="translate(217.7 602.5) scale(0.917 1)" font-size="12" fill="#000">21:35</text>
<text transform="translate(315.5 602.5) scale(0.917 1)" font-size="12" fill="#000" text-anchor="end">27.6</text>
<text transform="translate(315.5 618.5) scale(0.917 1)" font-size="12" fill="#000" text-anchor="end">25.04</text>
<text transform="translate(684.7 571) scale(0.97 1)" font-size="12" fill="#000" font-weight="bold">Luftdruck</text>
<text transform="translate(788.7 571) scale(0.97 1)" font-size="12" fill="#000" text-anchor="end" font-weight="bold">hPa</text>
<text transform="translate(690.4000000000001 586.5) scale(0.917 1)" font-size="12" fill="#000">04:25</text>
<text transform="translate(788.7 586.5) scale(0.917 1)" font-size="12" fill="#000" text-anchor="end">1012.4</text>
<text transform="translate(690.4000000000001 602.5) scale(0.917 1)" font-size="12" fill="#000">23:55</text>
<text transform="translate(788.7 602.5) scale(0.917 1)" font-size="12" fill="#000" text-anchor="end">1016.5</text>
<text transform="translate(684.7 618.5) scale(0.917 1)" font-size="12" fill="#000">^0.9hPa/h</text>
<text transform="translate(788.7 618.5) scale(0.917 1)" font-size="12" fill="#000" text-anchor="end">1014.4</text>
<text transform="translate(802.5 571) scale(0.97 1)" font-size="12" fill="#000" font-weight="bold">Regen</text>
<text transform="translate(906.5 571) scale(0.97 1)" font-size="12" fill="#000" text-anchor="end" font-weight="bold">l/m²</text>
<text transform="translate(808.2 602.5) scale(0.917 1)" font-size="12" fill="#000">10:45</text>
<text transform="translate(906.5 602.5) scale(0.917 1)" font-size="12" fill="#000" text-anchor="end">0.2</text>
<text transform="translate(802.5 618.5) scale(0.917 1)" font-size="12" fill="#000">Gesamt:</text>
<text transform="translate(906.5 618.5) scale(0.917 1)" font-size="12" fill="#000" text-anchor="end">1.0</text>
<text transform="translate(920 571) scale(0.97 1)" font-size="12" fill="#000" font-weight="bold">Wind</text>
<text transform="translate(1022.3 571) scale(0.97 1)" font-size="12" fill="#000" text-anchor="end" font-weight="bold">km/h</text>
<text transform="translate(920 586.5) scale(0.917 1)" font-size="12" fill="#000">Ø 10 min.</text>
<text transform="translate(1022.3 586.5) scale(0.917 1)" font-size="12" fill="#000" text-anchor="end">23.3</text>
<text transform="translate(925.7 602.5) scale(0.917 1)" font-size="12" fill="#000">23:50</text>
<text transform="translate(1022.3 602.5) scale(0.917 1)" font-size="12" fill="#000" text-anchor="end">N 26.8</text>
<text transform="translate(1022.3 618.5) scale(0.917 1)" font-size="12" fill="#000" text-anchor="end">2.2</text>
</svg>
</body></html>
